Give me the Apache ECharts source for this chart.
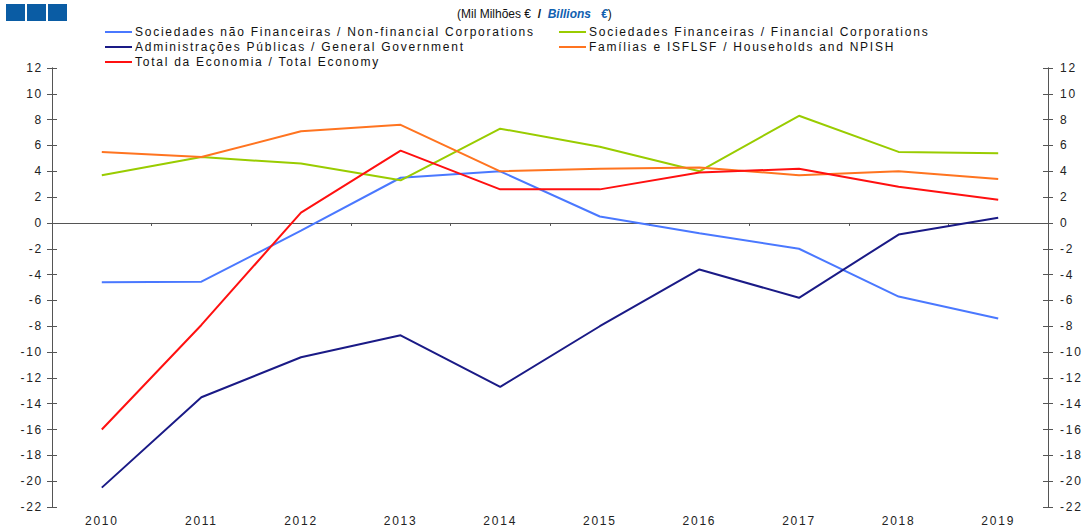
<!DOCTYPE html>
<html>
<head>
<meta charset="utf-8">
<script src="https://cdn.jsdelivr.net/npm/echarts@6/dist/echarts.min.js"></script>
<style>
  html, body { margin: 0; padding: 0; background: #fff; }
  #chart { width: 1088px; height: 529px; }
  /* the source chart has wide, Excel-like letter spacing */
  #chart svg text { letter-spacing: 1.75px; }
  #chart svg text.nospace { letter-spacing: 0; }
</style>
</head>
<body>
<div id="chart"></div>
<script>
var years = ['2010', '2011', '2012', '2013', '2014', '2015', '2016', '2017', '2018', '2019'];
var nonFinancial = [-4.6, -4.55, -0.6, 3.5, 4.0, 0.5, -0.8, -2.0, -5.7, -7.4];
var financial = [3.7, 5.1, 4.6, 3.3, 7.3, 5.9, 4.0, 8.3, 5.5, 5.4];
var government = [-20.5, -13.5, -10.4, -8.7, -12.7, -8.0, -3.6, -5.8, -0.9, 0.4];
var households = [5.5, 5.1, 7.1, 7.6, 4.0, 4.2, 4.3, 3.7, 4.0, 3.4];
var totalEconomy = [-16.0, -7.9, 0.8, 5.6, 2.6, 2.6, 3.9, 4.2, 2.8, 1.8];

var names = [
    'Sociedades não Financeiras / Non-financial Corporations',
    'Sociedades Financeiras / Financial Corporations',
    'Administrações Públicas / General Government',
    'Famílias e ISFLSF / Households and NPISH',
    'Total da Economia / Total Economy'
];
var colors = ['#4a78ff', '#99cc00', '#1a1a86', '#ff7420', '#ff1010'];

var font = 'Liberation Sans, Arial, sans-serif';

function yAx(pos, inside, labels, margin) {
    return {
        type: 'value', position: pos, min: -22, max: 12, interval: 2,
        axisLine: { show: true, lineStyle: { color: '#555', width: 1 } },
        axisTick: { show: true, inside: inside, length: 5, lineStyle: { color: '#555' } },
        axisLabel: { show: labels, color: '#222', fontSize: 12, fontFamily: font, margin: margin },
        splitLine: { show: false }
    };
}

function line(name, data, color) {
    return {
        name: name, type: 'line', data: data, xAxisIndex: 0, yAxisIndex: 0,
        symbol: 'none', smooth: false,
        lineStyle: { color: color, width: 2 }, itemStyle: { color: color }
    };
}

var legendText = { fontSize: 12, color: '#111', fontFamily: font, padding: [0, 0, 0, -2] };

var chart = echarts.init(document.getElementById('chart'), null, { renderer: 'svg' });
chart.setOption({
    animation: false,
    backgroundColor: '#fff',
    grid: { left: 52, right: 40, top: 68, bottom: 22 },
    title: {
        text: '(Mil Milhões €  {b|/}  {i|Billions   €})',
        left: 452, top: 3,
        textStyle: {
            fontSize: 12, fontWeight: 'normal', color: '#111', fontFamily: font,
            rich: {
                b: { fontSize: 12, fontWeight: 'bold', color: '#111', fontFamily: font },
                i: { fontSize: 12, fontWeight: 'bold', fontStyle: 'italic', color: '#1060b0', fontFamily: font }
            }
        }
    },
    legend: [
        {
            data: [names[0], names[2], names[4]],
            orient: 'vertical', left: 100, top: 21, itemGap: 3,
            icon: 'rect', itemWidth: 27, itemHeight: 2,
            textStyle: legendText
        },
        {
            data: [names[1], names[3]],
            orient: 'vertical', left: 554, top: 21, itemGap: 3,
            icon: 'rect', itemWidth: 27, itemHeight: 2,
            textStyle: legendText
        }
    ],
    graphic: [
        { type: 'rect', shape: { x: 6, y: 4, width: 19, height: 17 }, style: { fill: '#0a5ca4' } },
        { type: 'rect', shape: { x: 27, y: 4, width: 19, height: 17 }, style: { fill: '#0a5ca4' } },
        { type: 'rect', shape: { x: 48, y: 4, width: 19, height: 17 }, style: { fill: '#0a5ca4' } }
    ],
    xAxis: [
        {
            type: 'category', data: years, boundaryGap: true, position: 'bottom',
            axisLine: { show: false, onZero: false },
            axisTick: { show: false },
            axisLabel: { color: '#222', fontSize: 12, fontFamily: font, margin: 8 }
        },
        {
            type: 'category', data: years, boundaryGap: true,
            axisLine: { show: true, onZero: true, lineStyle: { color: '#555', width: 1 } },
            axisTick: { show: true, inside: true, length: 3, lineStyle: { color: '#555' } },
            axisLabel: { show: false }
        }
    ],
    yAxis: [
        yAx('left', false, true, 9),
        yAx('left', true, false, 9),
        yAx('right', false, true, 12),
        yAx('right', true, false, 12)
    ],
    series: [
        line(names[0], nonFinancial, colors[0]),
        line(names[1], financial, colors[1]),
        line(names[2], government, colors[2]),
        line(names[3], households, colors[3]),
        line(names[4], totalEconomy, colors[4])
    ]
});

// the unit title is a rich text: its pieces are placed by width, so no extra spacing there
$ = function (s) { return document.querySelectorAll(s); };
$('#chart svg text').forEach(function (t) {
    var s = t.textContent;
    if (s.indexOf('Mil Milh') >= 0 || s.indexOf('Billions') >= 0 || s.trim() === '/') {
        t.setAttribute('class', 'nospace');
    }
});
</script>
</body>
</html>
